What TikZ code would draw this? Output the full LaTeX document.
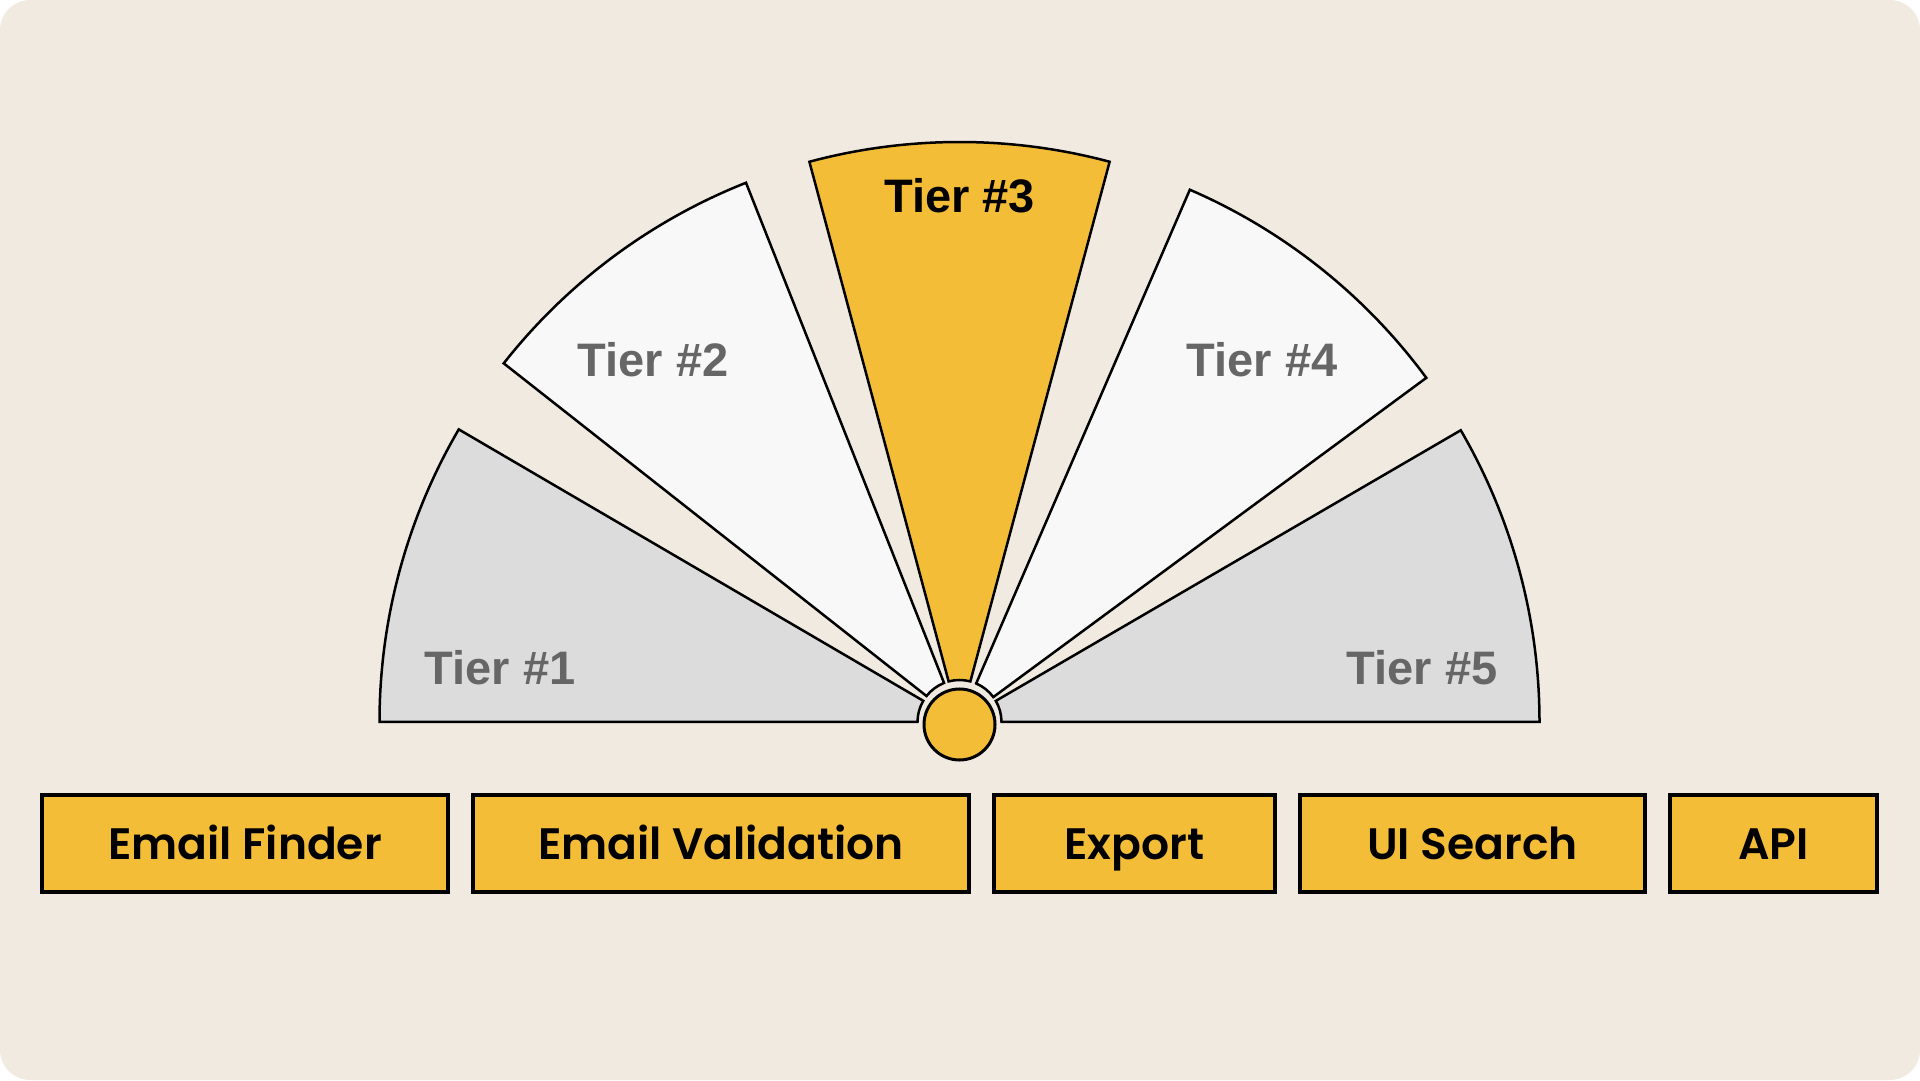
\documentclass[tikz,border=0pt]{standalone}
\usepackage{fontspec}
\setmainfont{Liberation Sans}
\newfontfamily\boxfont{Poppins}[BoldFont={Poppins SemiBold}]
\definecolor{bgbeige}{RGB}{241,234,225}
\definecolor{tieryellow}{RGB}{243,189,55}
\definecolor{tiergray}{RGB}{220,220,220}
\definecolor{tierwhite}{RGB}{248,248,248}
\definecolor{labelgray}{RGB}{102,102,102}
\tikzset{
  wedge/.style={draw=black, line width=2.5pt, line join=miter},
  tierlabel/.style={font=\bfseries\fontsize{47}{50}\selectfont, text=labelgray,
    inner sep=0pt, text height=34pt, text depth=0pt},
  featurebox/.style={draw=black, line width=3.5pt, fill=tieryellow, inner sep=0pt,
    minimum height=97pt, text height=31pt, text depth=0pt,
    font=\boxfont\bfseries\fontsize{44}{48}\selectfont}
}

\begin{document}
\begin{tikzpicture}[x=1pt,y=1pt]
            % Fondo
            \fill[bgbeige, rounded corners=30pt] (0,0) rectangle (1920,1080);
            \useasboundingbox (0,0) rectangle (1920,1080);
            \coordinate (hub) at (959.5,358);

            % Sectores
            \begin{scope}[shift={(hub)}]
            \foreach \a/\b/\col in {180/149.7/tiergray, 141.8/111.6/tierwhite, 105/75/tieryellow, 66.6/36.4/tierwhite, 30.2/0/tiergray} {
                \filldraw[wedge, fill=\col] (\a:42) -- (\a:580) arc[start angle=\a, end angle=\b, radius=580]
                    -- (\b:42) arc[start angle=\b, end angle=\a, radius=42] -- cycle;
            }
            \end{scope}

            % Etiquetas
            \node[tierlabel] (tier1) at (500,412) {Tier \#1};
            \node[tierlabel] (tier2) at (653,720) {Tier \#2};
            \node[tierlabel, text=black] (tier3) at (959.5,884) {Tier \#3};
            \node[tierlabel] (tier4) at (1262,720) {Tier \#4};
            \node[tierlabel] (tier5) at (1422,412) {Tier \#5};

            % Centro
            \node[circle, draw=black, line width=3pt, fill=tieryellow, minimum size=71pt] (hubdot) at (959.5,355.5) {};

            % Productos
            \foreach \name/\cx/\w/\txt in {finder/245/406/Email Finder, validation/721/496/Email Validation,
                export/1134.5/281/Export, uisearch/1472.5/345/UI Search, api/1773.5/207/API} {
                \node[featurebox, minimum width=\w pt] (\name) at (\cx,236.5) {\txt};
            }
        \end{tikzpicture}
\end{document}
